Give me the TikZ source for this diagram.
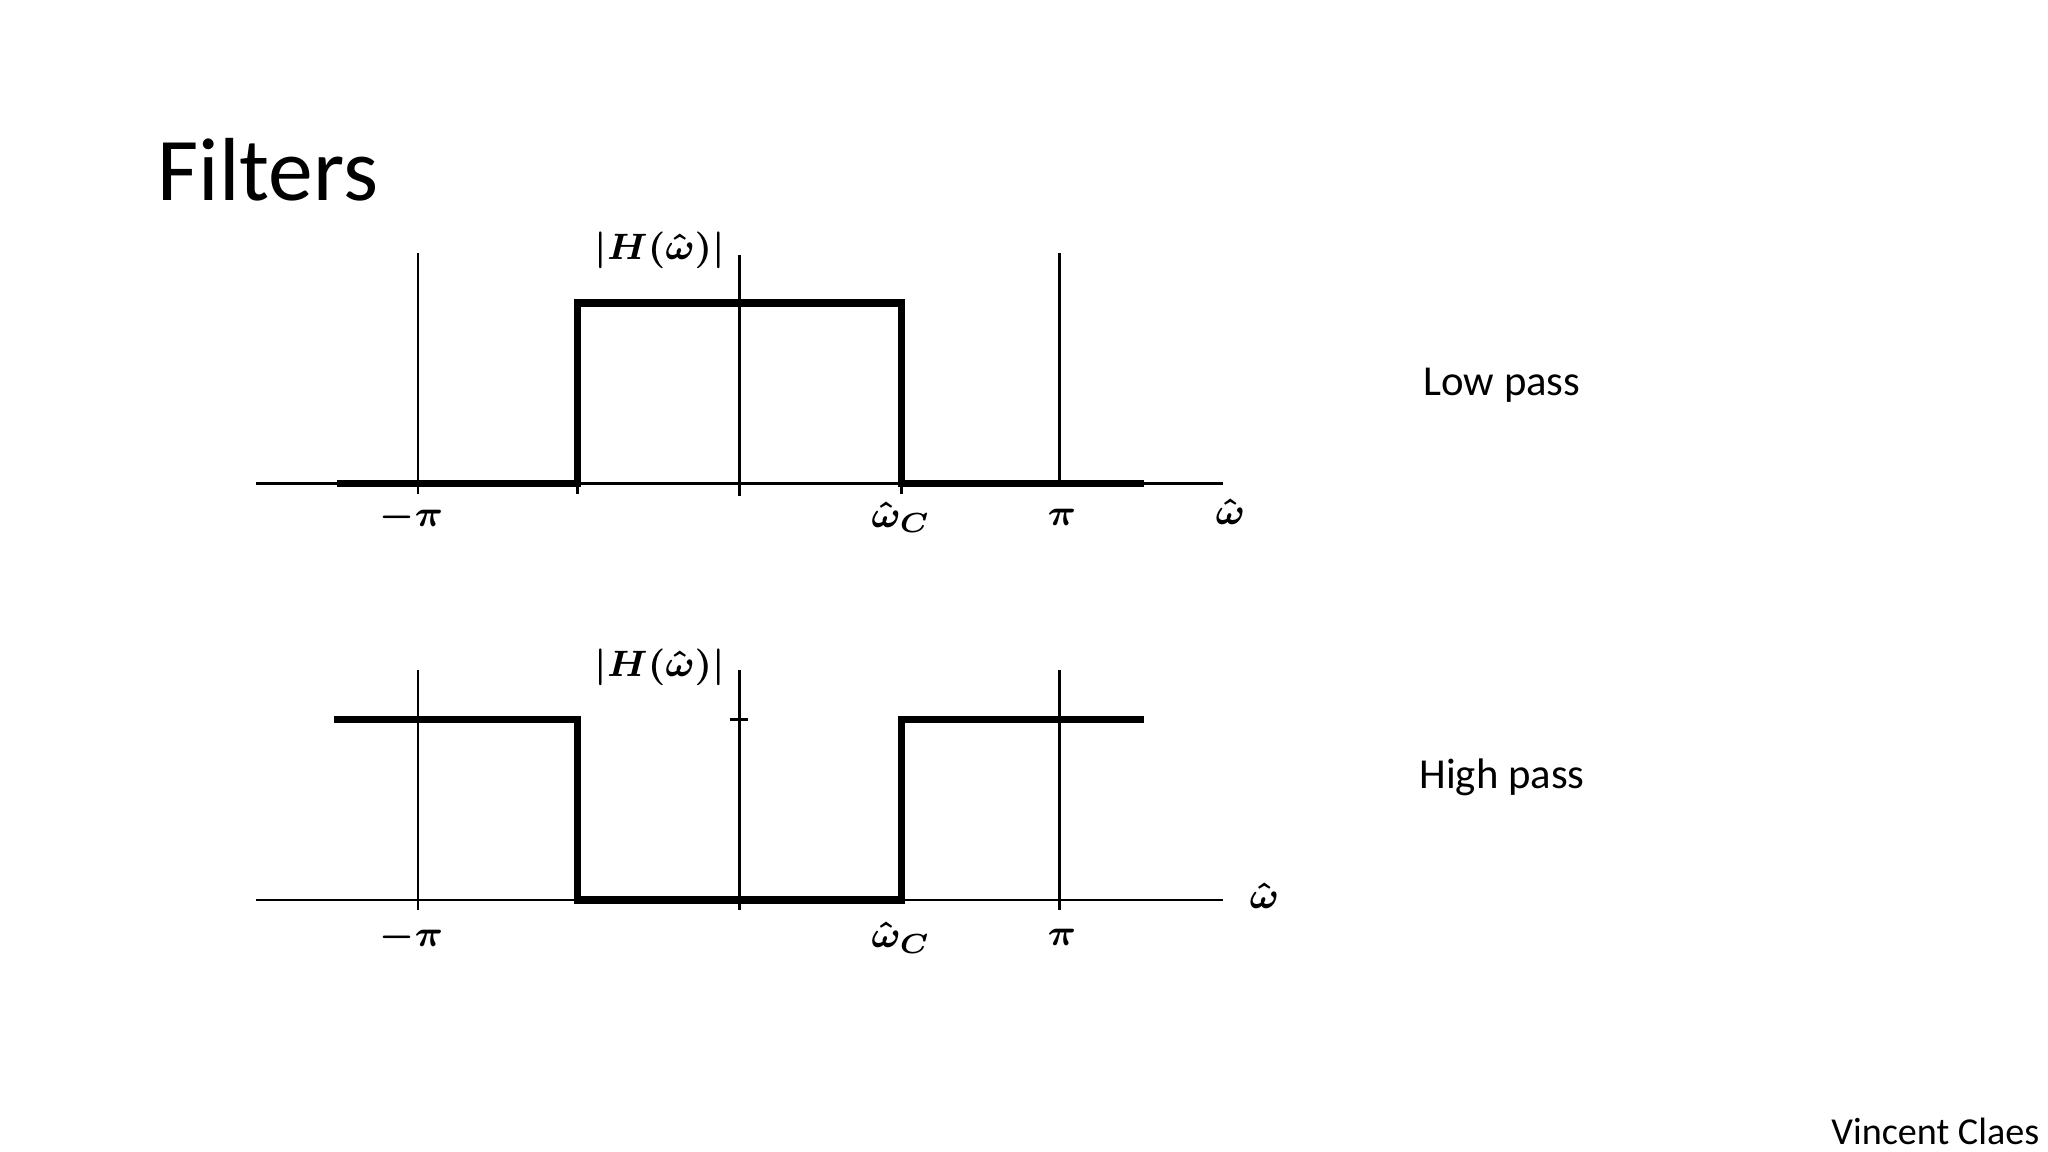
\documentclass[tikz,border=0pt]{standalone}
\usepackage{amsmath,amssymb}
\usepackage{fontspec}
\setmainfont{Carlito}
\begin{document}
\begin{tikzpicture}[x=0.01cm,y=-0.01cm,
  ax/.style={line width=0.6pt},
  sig/.style={line width=1.6pt},
  lab/.style={font=\fontsize{8}{9}\selectfont, inner sep=1pt},
  txt/.style={font=\fontsize{9.3}{11}\selectfont}]
\useasboundingbox (0,0) rectangle (1568,882);
\node[font=\fontsize{19.5}{24}\selectfont, anchor=west, inner sep=0pt] (title) at (120,130) {Filters};
% top plot
\coordinate (a1) at (196,370); \coordinate (a2) at (936,370);
\draw[ax] (a1) -- (a2);
\draw[ax] (320,194) -- (320,378);
\draw[ax] (566,195) -- (566,380);
\draw[ax] (811,194) -- (811,370);
\draw[ax] (442,370) -- (442,378);
\draw[ax] (690,370) -- (690,378);
\draw[sig] (258,370) -- (442,370) -- (442,232) -- (690,232) -- (690,370) -- (876,370);
\node[lab] (t1) at (315,396) {$\boldsymbol{-\pi}$};
\node[lab] (t2) at (690,396) {$\boldsymbol{\hat\omega_C}$};
\node[lab] (t3) at (813,396) {$\boldsymbol{\pi}$};
\node[lab] (t4) at (942,392) {$\boldsymbol{\hat\omega}$};
\node[lab] (t5) at (505,192) {$\boldsymbol{|H(\hat\omega)|}$};
\node[txt] (lp) at (1150,295) {Low pass};
% bottom plot
\draw[ax] (196,689) -- (936,689);
\draw[ax] (320,513) -- (320,697);
\draw[ax] (566,513) -- (566,697);
\draw[ax] (811,513) -- (811,697);
\draw[ax] (559,551) -- (573,551);
\draw[sig] (256,551) -- (442,551) -- (442,689) -- (690,689) -- (690,551) -- (876,551);
\node[lab] (b1) at (315,718) {$\boldsymbol{-\pi}$};
\node[lab] (b2) at (690,718) {$\boldsymbol{\hat\omega_C}$};
\node[lab] (b3) at (813,718) {$\boldsymbol{\pi}$};
\node[lab] (b4) at (968,686) {$\boldsymbol{\hat\omega}$};
\node[lab] (b5) at (505,511) {$\boldsymbol{|H(\hat\omega)|}$};
\node[txt] (hp) at (1150,595) {High pass};
\node[font=\fontsize{8.3}{10}\selectfont, anchor=east, inner sep=0pt] (vc) at (1562,866) {Vincent Claes};
\end{tikzpicture}
\end{document}
